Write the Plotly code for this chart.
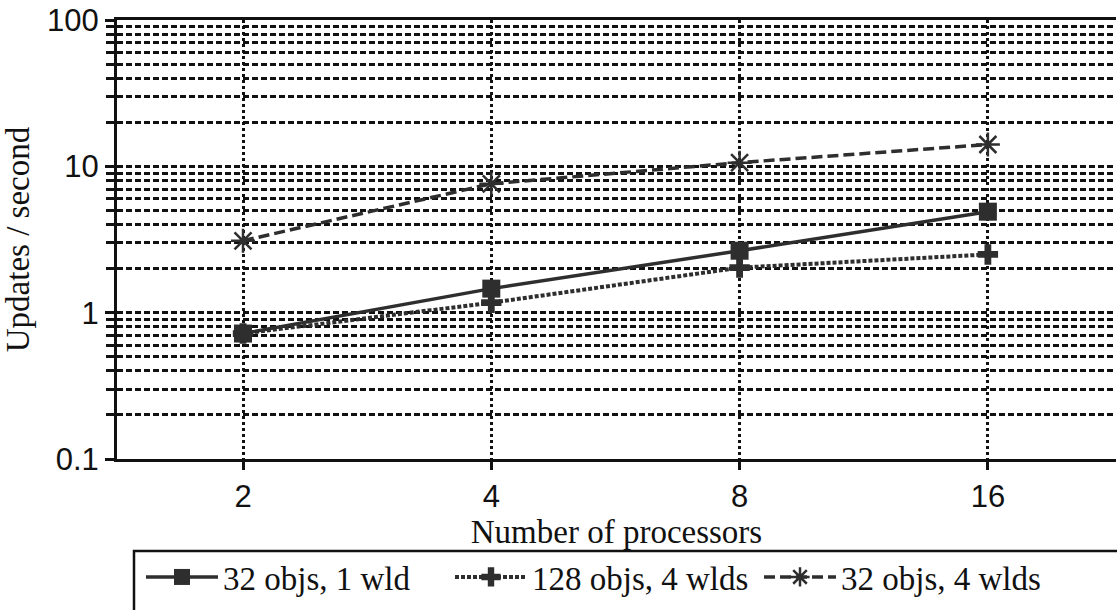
import plotly.graph_objects as go
import math

processors = [2, 4, 8, 16]
s1_name = "32 objs, 1 wld"
s1_vals = [0.72, 1.46, 2.65, 4.9]
s2_name = "128 objs, 4 wlds"
s2_vals = [0.72, 1.17, 2.03, 2.5]
s3_name = "32 objs, 4 wlds"
s3_vals = [3.1, 7.6, 10.6, 14.1]

x_ticks = [2, 4, 8, 16]
y_ticks = [0.1, 1, 10, 100]
y_ticklabels = ["0.1", "1", "10", "100"]

serif = "Liberation Serif"
sans = "Liberation Sans"
ink = "#2e2e2e"

fig = go.Figure()
fig.add_trace(go.Scatter(
    x=processors, y=s2_vals, name=s2_name, mode="lines+markers", legendrank=2,
    line=dict(color=ink, width=4, dash="4px,2px"),
    marker=dict(symbol="cross", size=17, color=ink)))
fig.add_trace(go.Scatter(
    x=processors, y=s1_vals, name=s1_name, mode="lines+markers", legendrank=1,
    line=dict(color=ink, width=3.5),
    marker=dict(symbol="square", size=18, color=ink)))
fig.add_trace(go.Scatter(
    x=processors, y=s3_vals, name=s3_name, mode="lines+markers", legendrank=3,
    line=dict(color=ink, width=3.5, dash="11px,5px"),
    marker=dict(symbol="asterisk-open", size=20, color=ink,
                line=dict(color=ink, width=2.5))))

W, H = 1117, 610
L, R, T, B = 117, 1, 20, 151
pw, ph = W - L - R, H - T - B

def px(x):
    return (x - L) / pw

def py(y):
    return (H - B - y) / ph

fig.update_layout(
    width=W, height=H,
    margin=dict(l=L, r=R, t=T, b=B, autoexpand=False),
    plot_bgcolor="white", paper_bgcolor="white",
    font=dict(family=serif, color="#111"),
    legend=dict(
        orientation="h", x=px(141), xanchor="left", y=py(549), yanchor="top",
        font=dict(family=serif, size=33, color="#111"),
        borderwidth=0, bgcolor="rgba(0,0,0,0)",
        itemwidth=72, entrywidthmode="pixels", entrywidth=222,
    ),
    showlegend=True,
    shapes=[dict(type="rect", xref="paper", yref="paper",
                 x0=px(134), x1=px(1125), y0=py(551), y1=py(620),
                 line=dict(color="#111", width=2.5), fillcolor="rgba(0,0,0,0)",
                 layer="below")],
)

fig.update_xaxes(
    type="log",
    range=[math.log10(2) - 0.5 * math.log10(2) * 1.015, math.log10(16) + 0.516 * math.log10(2)],
    tickvals=x_ticks, ticktext=[str(v) for v in x_ticks],
    ticks="outside", ticklen=8, tickwidth=2.5, tickcolor="#111",
    tickfont=dict(family=sans, size=31, color="#111"),
    showline=True, linecolor="#111", linewidth=3, mirror=True,
    showgrid=True, gridcolor="#111", gridwidth=2.5, griddash="3px,3px",
    title=dict(text="Number of processors", font=dict(family=serif, size=33, color="#111"), standoff=0),
    zeroline=False,
)
fig.update_yaxes(
    type="log", range=[-1, 2],
    tickvals=y_ticks, ticktext=y_ticklabels,
    ticks="outside", ticklen=9, tickwidth=2.5, tickcolor="#111",
    tickfont=dict(family=sans, size=31, color="#111"),
    showline=True, linecolor="#111", linewidth=3, mirror=False,
    showgrid=True, gridcolor="#111", gridwidth=2.5, griddash="6px,3px",
    minor=dict(ticks="outside", ticklen=8, tickwidth=2.5, tickcolor="#111",
               showgrid=True, gridcolor="#111", gridwidth=2.5, griddash="6px,3px",
               dtick="D1"),
    title=dict(text="Updates / second", font=dict(family=serif, size=33, color="#111"), standoff=8),
    zeroline=False,
)

fig.write_html("out.html")
